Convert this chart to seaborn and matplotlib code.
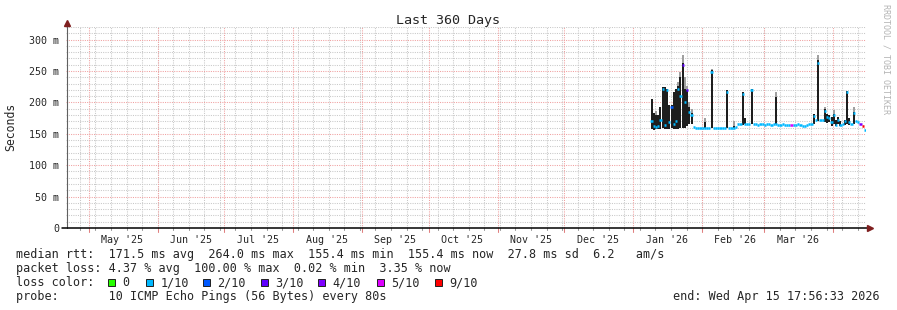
import numpy as np
import pandas as pd
import matplotlib
matplotlib.use("Agg")
import matplotlib.pyplot as plt
import matplotlib.dates as mdates
from matplotlib.lines import Line2D
from matplotlib.patches import Rectangle
from matplotlib.ticker import MultipleLocator
import seaborn as sns

# ---------------- data ----------------
title = "Last 360 Days"
range_start = "2025-04-20 17:56:33"
range_end = "2026-04-15 17:56:33"
data_start = "2026-01-08 17:56:33"   # first daily consolidated point

median_ms = [170, 163, 161, 162, 172, 222, 164, 220, 168, 193, 165, 170, 222, 210, 259, 200, 219, 185, 180, 161,
             160, 160, 160, 160, 160, 159, 160, 249, 160, 159, 160, 160, 159, 160, 217, 160, 160, 160, 161, 165,
             165, 214, 166, 165, 165, 220, 165, 165, 164, 165, 165, 164, 165, 165, 164, 165, 165, 164, 164, 165,
             164, 164, 164, 164, 164, 164, 165, 164, 163, 163, 164, 165, 165, 178, 172, 262, 172, 172, 186, 177,
             175, 169, 180, 164, 172, 164, 166, 170, 216, 168, 166, 183, 170, 168, 165, 162, 156]
smoke_low = [158, 156, 157, 157, 158, 160, 158, 157, 158, 160, 157, 158, 158, 160, 160, 160, 162, 165, 165, 161,
             160, 160, 160, 160, 160, 159, 160, 160, 160, 159, 160, 160, 159, 160, 160, 160, 160, 160, 161, 165,
             165, 164, 165, 165, 165, 165, 165, 165, 164, 165, 165, 164, 165, 165, 164, 165, 165, 164, 164, 165,
             164, 164, 164, 164, 164, 164, 165, 164, 163, 163, 164, 165, 165, 165, 172, 170, 172, 172, 168, 167,
             168, 163, 165, 162, 166, 162, 166, 164, 165, 164, 166, 165, 170, 168, 165, 162, 156]
smoke_high = [206, 183, 180, 180, 193, 225, 225, 222, 196, 196, 217, 222, 226, 241, 262, 222, 219, 193, 183, 161,
              160, 160, 160, 160, 168, 159, 160, 251, 160, 159, 160, 160, 159, 160, 220, 160, 160, 163, 161, 165,
              165, 217, 175, 165, 165, 222, 165, 165, 164, 165, 165, 164, 165, 165, 164, 165, 209, 164, 164, 165,
              164, 164, 164, 164, 164, 164, 165, 164, 163, 163, 164, 165, 165, 181, 172, 267, 172, 172, 189, 182,
              180, 176, 182, 172, 176, 170, 166, 172, 218, 175, 166, 185, 170, 168, 165, 162, 156]
smoke_top = [206, 183, 186, 180, 193, 225, 225, 222, 196, 196, 217, 222, 232, 248, 275, 240, 226, 200, 190, 161,
             160, 160, 160, 160, 175, 159, 160, 253, 160, 159, 160, 160, 159, 160, 220, 160, 160, 170, 161, 165,
             165, 217, 175, 165, 165, 222, 165, 165, 164, 165, 165, 164, 165, 165, 164, 165, 216, 164, 164, 165,
             164, 164, 164, 164, 164, 164, 165, 164, 163, 163, 164, 165, 165, 181, 172, 275, 172, 172, 193, 182,
             180, 176, 188, 172, 176, 170, 166, 172, 218, 175, 166, 193, 170, 168, 165, 162, 156]
loss_tenths = [1, 1, 1, 1, 1, 1, 1, 1, 1, 2, 1, 1, 1, 1, 3, 1, 3, 1, 1, 1,
               1, 1, 1, 1, 1, 1, 1, 1, 1, 1, 1, 1, 1, 1, 1, 1, 1, 1, 1, 1,
               1, 1, 1, 1, 1, 1, 1, 1, 1, 1, 1, 1, 1, 1, 1, 1, 1, 1, 1, 1,
               1, 1, 1, 5, 1, 1, 1, 1, 1, 1, 1, 1, 1, 1, 1, 1, 1, 1, 1, 1,
               1, 1, 1, 1, 1, 1, 1, 1, 1, 1, 1, 1, 1, 1, 4, 9, 1]

loss_levels = [0, 1, 2, 3, 4, 5, 9]
loss_labels = ["0", "1/10", "2/10", "3/10", "4/10", "5/10", "9/10"]
loss_colors = ["#26ff00", "#00b8ff", "#0059ff", "#5e00ff", "#7e00ff", "#dd00ff", "#ff0000"]

y_ticks = [0, 50, 100, 150, 200, 250, 300]
y_tick_labels = ["0", "50 m", "100 m", "150 m", "200 m", "250 m", "300 m"]

line_rtt = "median rtt:  171.5 ms avg  264.0 ms max  155.4 ms min  155.4 ms now  27.8 ms sd  6.2   am/s"
line_loss = "packet loss: 4.37 % avg  100.00 % max  0.02 % min  3.35 % now"
line_probe = "probe:       10 ICMP Echo Pings (56 Bytes) every 80s"
line_end = "end: Wed Apr 15 17:56:33 2026"
watermark = "RRDTOOL / TOBI OETIKER"

# ---------------- style ----------------
sns.set_style("white")
plt.rcParams["font.family"] = ["DejaVu Sans Mono", "DejaVu Sans"]

W, H = 897, 310
fig = plt.figure(figsize=(W / 100, H / 100), dpi=100)
fig.patch.set_facecolor("white")
PL, PR, PT, PB = 66, 866, 27, 228


def fx(px):
    return px / W


def fy(py):
    return 1 - py / H


ax = fig.add_axes([fx(PL), fy(PB), (PR - PL) / W, (PB - PT) / H])
ax.set_facecolor("white")

t0 = mdates.date2num(pd.Timestamp(range_start).to_pydatetime())
t1 = mdates.date2num(pd.Timestamp(range_end).to_pydatetime())
times = pd.date_range(data_start, periods=len(median_ms), freq="D")
xs = mdates.date2num(times.to_pydatetime())

df = pd.DataFrame({"x": xs, "median": median_ms, "lo": smoke_low, "hi": smoke_high,
                   "top": smoke_top, "loss": loss_tenths})
cmap = dict(zip(loss_levels, loss_colors))

GRID = "#c8c8c8"
MGRID = "#f0a0a0"
dot = (0, (1, 1.2))

# grid lines
months = pd.date_range("2025-05-01", "2026-04-01", freq="MS")
weeks = pd.date_range("2025-04-27", range_end, freq="7D")
for w in weeks:
    xw = mdates.date2num(w.to_pydatetime())
    ax.axvline(xw, color=GRID, lw=0.75, ls=dot, zorder=0.5)
    ax.axvline(xw, ymin=-0.012, ymax=0, color="#999999", lw=0.75, clip_on=False)
for m in months:
    xm = mdates.date2num(m.to_pydatetime())
    ax.axvline(xm, color=MGRID, lw=0.75, ls=dot, zorder=0.6)
    ax.axvline(xm, ymin=-0.02, ymax=0, color="#e08080", lw=0.75, clip_on=False)

ax.set_ylim(0, 320)
ax.set_xlim(t0, t1)
ax.set_yticks(y_ticks)
ax.set_yticklabels(y_tick_labels)
ax.yaxis.set_minor_locator(MultipleLocator(10))
ax.yaxis.grid(True, which="minor", color=GRID, lw=0.75, ls=dot)
ax.yaxis.grid(True, which="major", color=MGRID, lw=0.75, ls=dot)
ax.set_axisbelow(True)

# month labels centred on each month
lab_pos, lab_txt = [], []
for m in months.union(pd.DatetimeIndex(["2025-04-01"])):
    c = mdates.date2num((m + pd.Timedelta(days=15)).to_pydatetime())
    if t0 <= c <= t1:
        lab_pos.append(c)
        lab_txt.append(m.strftime("%b '%y"))
ax.set_xticks(lab_pos)
ax.set_xticklabels(lab_txt)
ax.tick_params(axis="x", which="major", length=0, pad=5, labelsize=7.2)
ax.tick_params(axis="y", which="major", length=2.5, width=0.7, color="#777777", pad=2.5, labelsize=7.2)
ax.tick_params(axis="y", which="minor", length=1.5, width=0.6, color="#aaaaaa")
for s in ax.spines.values():
    s.set_visible(False)

# smoke: grey fringes and dense black part (narrow bars leave gaps like the original)
BW = 0.88
ax.bar(df["x"] + (1 - BW) / 2, df["top"] - df["hi"], bottom=df["hi"], width=BW, align="edge",
       color="#a0a0a0", linewidth=0, zorder=2, antialiased=False)
ax.bar(df["x"] + (1 - BW) / 2, df["hi"] - df["lo"], bottom=df["lo"], width=BW, align="edge",
       color="#1e1e1e", linewidth=0, zorder=3, antialiased=False)
# median coloured by loss
ax.hlines(df["median"], df["x"], df["x"] + 1.0, colors=[cmap[v] for v in df["loss"]],
          lw=1.8, zorder=4)

# axes lines + arrows
fig.add_artist(Line2D([fx(66.5), fx(66.5)], [fy(228), fy(24)], color="#606060", lw=0.8))
fig.add_artist(Line2D([fx(62), fx(867)], [fy(228), fy(228)], color="black", lw=1.1))
fig.add_artist(Line2D([fx(66.5)], [fy(22.5)], marker="^", ms=4.2, color="#7f1f1f", lw=0))
fig.add_artist(Line2D([fx(869.5)], [fy(228)], marker=">", ms=4.2, color="#7f1f1f", lw=0))

# texts
fig.text(fx(448), fy(24), title, ha="center", va="baseline", fontsize=9.6)
fig.text(fx(11), fy(127), "Seconds", rotation=90, ha="center", va="center", fontsize=8.3)
fig.text(fx(886), fy(4), watermark, rotation=270, ha="center", va="top", fontsize=6.0, color="#b4b4b4")

FS = 8.45
fig.text(fx(16), fy(258), line_rtt, ha="left", va="baseline", fontsize=FS)
fig.text(fx(16), fy(272), line_loss, ha="left", va="baseline", fontsize=FS)
fig.text(fx(16), fy(286), "loss color:", ha="left", va="baseline", fontsize=FS)
fig.text(fx(16), fy(300), line_probe, ha="left", va="baseline", fontsize=FS)
fig.text(fx(880), fy(300), line_end, ha="right", va="baseline", fontsize=FS)

box_x = [108, 146, 203, 261, 318, 377, 435]
for bx, lab, col in zip(box_x, loss_labels, loss_colors):
    fig.add_artist(Rectangle((fx(bx), fy(285.5)), 7 / W, 7 / H, transform=fig.transFigure,
                             facecolor=col, edgecolor="#202020", lw=0.7))
    fig.text(fx(bx + 14.5), fy(286), lab, ha="left", va="baseline", fontsize=FS)

fig.savefig("out.png", dpi=100, facecolor="white")
